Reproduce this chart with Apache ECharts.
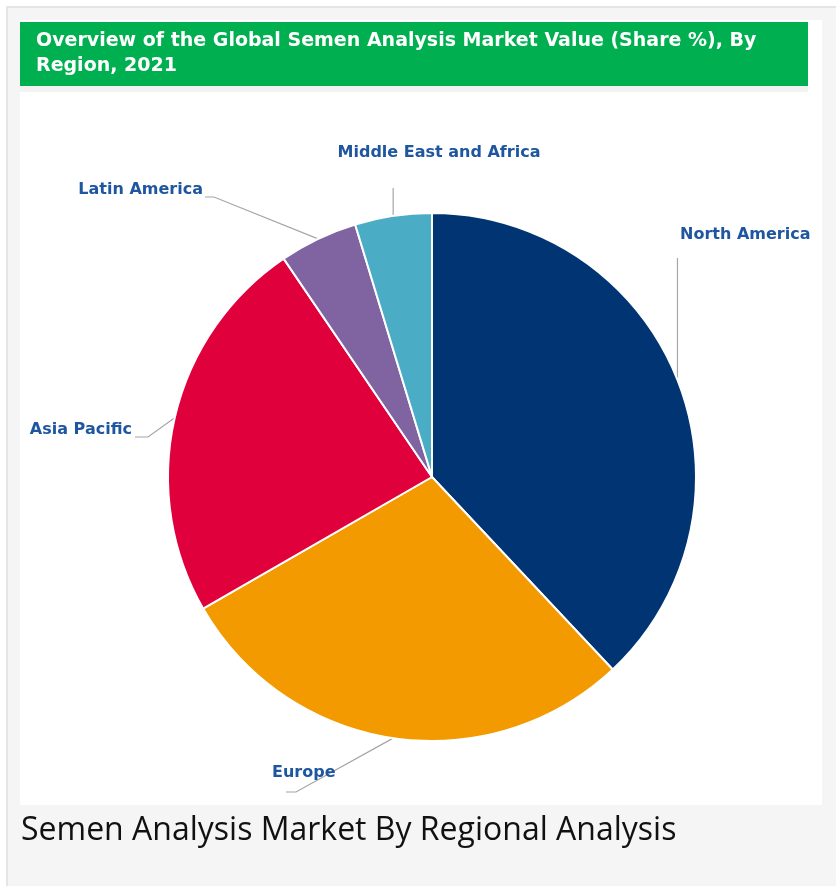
<!DOCTYPE html>
<html>
<head>
<meta charset="utf-8">
<script src="https://cdn.jsdelivr.net/npm/echarts@6/dist/echarts.min.js"></script>
<style>
  html, body { margin: 0; padding: 0; background: #fff; }
  #main { width: 836px; height: 886px; }
</style>
</head>
<body>
<div id="main"></div>
<script>
var regions = ['North America', 'Europe', 'Asia Pacific', 'Latin America', 'Middle East and Africa'];
var shares = [38.0, 28.7, 23.8, 4.8, 4.7];
var colors = ['#003473', '#F29A00', '#E0003C', '#8064A2', '#4BACC6'];

var chartTitle = 'Overview of the Global Semen Analysis Market Value (Share %), By\nRegion, 2021';
var caption = 'Semen Analysis Market By Regional Analysis';

// where each label sits and how its leader line bends (after the slice edge point)
var labelPlaces = {
  'North America':          { x: 680, y: 235, align: 'left',   bend: function (p) { return [[p[0], 258]]; } },
  'Europe':                 { x: 272, y: 773, align: 'left',   bend: function (p) { return [[296, 792], [286, 792]]; } },
  'Asia Pacific':           { x: 132, y: 430, align: 'right',  bend: function (p) { return [[148, 437], [135, 437]]; } },
  'Latin America':          { x: 203, y: 190, align: 'right',  bend: function (p) { return [[214, 197], [205, 197]]; } },
  'Middle East and Africa': { x: 439, y: 153, align: 'center', bend: function (p) { return [[p[0], 188]]; } }
};

var chart = echarts.init(document.getElementById('main'));

var data = regions.map(function (name, i) {
  return { name: name, value: shares[i], itemStyle: { color: colors[i] } };
});

chart.setOption({
  animation: false,
  graphic: [
    { type: 'rect', z: -10, shape: { x: 7, y: 7, width: 840, height: 890 },
      style: { fill: '#f5f5f5', stroke: '#dedede', lineWidth: 1.5 } },
    { type: 'rect', z: -9, shape: { x: 20, y: 20, width: 802, height: 785 },
      style: { fill: '#ffffff' } },
    { type: 'rect', z: -8, shape: { x: 20, y: 86, width: 788, height: 6 },
      style: { fill: '#f3f3f3' } },
    { type: 'rect', z: -7, shape: { x: 20, y: 22, width: 788, height: 64 },
      style: { fill: '#00B050' } },
    { type: 'text', z: 10, x: 36, y: 29,
      style: { text: chartTitle, fill: '#ffffff', font: 'bold 19px "DejaVu Sans"', lineHeight: 25 } },
    { type: 'text', z: 10, x: 21, y: 815,
      style: { text: caption, fill: '#111111', font: '32px "Open Sans"' } }
  ],
  series: [{
    type: 'pie',
    center: [432, 477],
    radius: 264,
    startAngle: 90,
    clockwise: true,
    data: data,
    itemStyle: { borderColor: '#ffffff', borderWidth: 2 },
    label: {
      show: true,
      position: 'outside',
      formatter: '{b}',
      color: '#1F56A0',
      fontFamily: 'DejaVu Sans',
      fontWeight: 'bold',
      fontSize: 16,
      overflow: 'none'
    },
    labelLine: {
      show: true,
      length: 20,
      length2: 10,
      lineStyle: { color: '#a6a6a6', width: 1.2 }
    },
    emphasis: { disabled: true },
    labelLayout: function (params) {
      var place = labelPlaces[regions[params.dataIndex]];
      var start = params.labelLinePoints ? params.labelLinePoints[0] : [0, 0];
      return {
        x: place.x,
        y: place.y,
        align: place.align,
        verticalAlign: 'middle',
        labelLinePoints: [start].concat(place.bend(start))
      };
    }
  }]
});
</script>
</body>
</html>
